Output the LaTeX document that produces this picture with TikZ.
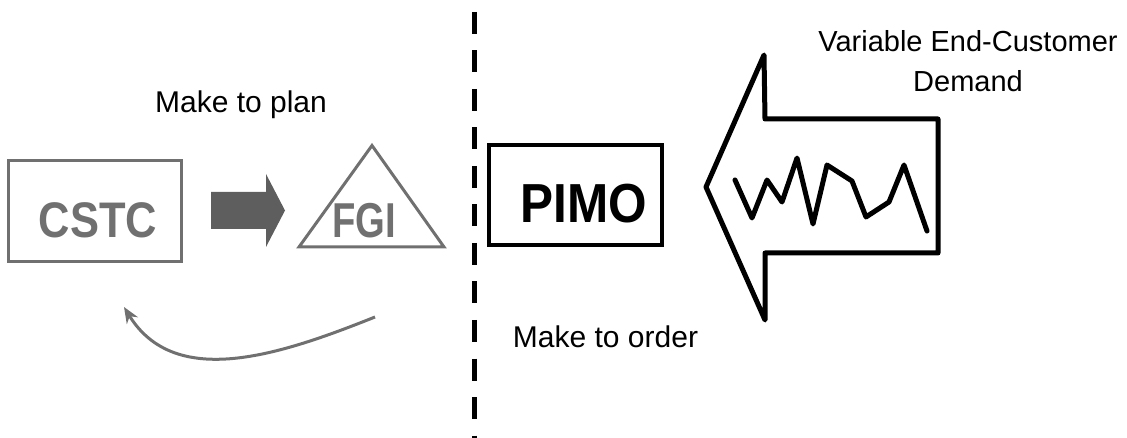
\documentclass[tikz,border=0pt]{standalone}
\usepackage{fontspec}
\setmainfont{Liberation Sans}
\usepackage{graphicx}
\usetikzlibrary{arrows.meta}

\definecolor{boxgray}{HTML}{707070}
\definecolor{arrowgray}{HTML}{5E5E5E}

\tikzset{
  lbl/.style={font=\fontsize{30}{36}\selectfont, inner sep=0pt},
  graybox/.style={draw=boxgray, line width=3pt},
  bigtxt/.style={font=\fontsize{#1}{#1}\selectfont\bfseries, inner sep=0pt, anchor=base},
}

\begin{document}
\begin{tikzpicture}[x=1pt,y=-1pt,>=Stealth]
\useasboundingbox (0,0) rectangle (1127,438);

% make to plan side
\node[lbl, anchor=base] (plan) at (241,113) {Make to plan};
\node[graybox, minimum width=173pt, minimum height=101pt] (cstcbox) at (95,211) {};
\node[bigtxt=50, text=boxgray] (cstc) at (98,238) {\scalebox{0.87}[1]{CSTC}};

\fill[arrowgray] (211,192) -- (266,192) -- (266,174) -- (285,210.5)
    -- (266,247) -- (266,229) -- (211,229) -- cycle;

\draw[graybox, line join=miter] (372,145.5) -- (444,247) -- (299,247) -- cycle;
\node[bigtxt=49, text=boxgray] (fgi) at (364,238) {\scalebox{0.78}[1]{FGI}};

\coordinate (loopstart) at (375,317);
\coordinate (loopend) at (124,307);
\draw[boxgray, line width=3pt, -{Stealth[length=16pt,width=13pt]}] (loopstart)
    .. controls (280,355) and (175,390) .. (loopend);

% divider
\draw[line width=5pt, dash pattern=on 22pt off 16.5pt] (474.5,12) -- (474.5,438);

% make to order side
\node[draw, line width=4pt, minimum width=173pt, minimum height=100pt] (pimobox) at (575.5,195) {};
\node[bigtxt=55] (pimo) at (584,223) {\scalebox{0.9}[1]{PIMO}};
\node[lbl, anchor=base] (order) at (605.5,348) {Make to order};

\draw[line width=5pt, line join=round] (706,187) -- (764,55) -- (765,119) -- (938,119)
    -- (938,253) -- (765,253) -- (765,320) -- cycle;
\draw[line width=5pt, line join=round, line cap=round] (735,180) -- (752,218) -- (767,180)
    -- (782,202) -- (797,158) -- (813,224) -- (827,165) -- (852,181) -- (866,217)
    -- (889,202) -- (904,165) -- (927,231);

\node[lbl, font=\fontsize{29}{40}\selectfont, align=center] (demand) at (968,61.5)
    {Variable End-Customer\\Demand};
\end{tikzpicture}
\end{document}
